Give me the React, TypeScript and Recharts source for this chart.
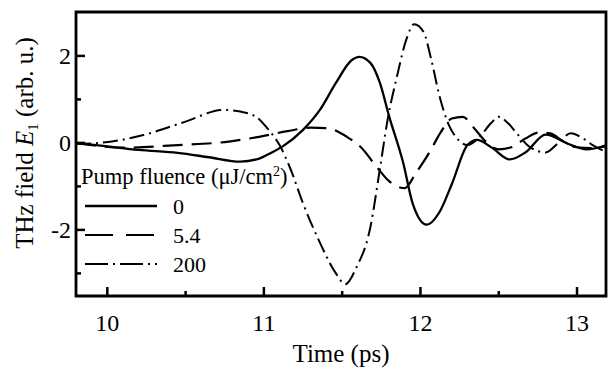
import React from 'react';
import { LineChart, Line, XAxis, YAxis, ReferenceArea, Legend } from 'recharts';

// time (ps) and THz field E1 (arb. u.) for each pump fluence
const fluence0Time = [9.8, 10.0, 10.2, 10.45, 10.65, 10.85, 10.97, 11.05, 11.12, 11.25, 11.36, 11.46, 11.56, 11.61, 11.68, 11.74, 11.8, 11.89, 11.95, 12.04, 12.12, 12.2, 12.3, 12.36, 12.46, 12.57, 12.67, 12.8, 12.95, 13.06, 13.18];
const fluence0Field = [0, -0.08, -0.16, -0.23, -0.33, -0.43, -0.36, -0.22, -0.08, 0.3, 0.77, 1.38, 1.9, 1.98, 1.84, 1.39, 0.61, -0.46, -1.39, -1.88, -1.6, -0.95, -0.05, 0.07, -0.12, -0.38, -0.22, 0.19, -0.03, -0.15, -0.06];

const fluence54Time = [9.8, 10.1, 10.45, 10.75, 10.97, 11.15, 11.3, 11.4, 11.53, 11.62, 11.72, 11.8, 11.9, 11.97, 12.06, 12.13, 12.2, 12.27, 12.34, 12.42, 12.5, 12.58, 12.67, 12.76, 12.83, 12.91, 13.0, 13.1, 13.18];
const fluence54Field = [0, -0.11, -0.05, 0.02, 0.14, 0.27, 0.35, 0.34, 0.14, -0.1, -0.55, -0.88, -1.04, -0.7, -0.2, 0.25, 0.56, 0.6, 0.35, 0.02, -0.15, -0.1, 0.1, 0.24, 0.22, 0.04, -0.1, -0.12, -0.08];

const fluence200Time = [9.8, 9.95, 10.23, 10.5, 10.74, 10.85, 10.95, 11.03, 11.1, 11.17, 11.25, 11.36, 11.46, 11.52, 11.59, 11.68, 11.74, 11.79, 11.85, 11.91, 11.96, 12.02, 12.07, 12.12, 12.18, 12.23, 12.3, 12.38, 12.45, 12.5, 12.56, 12.62, 12.7, 12.8, 12.88, 12.96, 13.03, 13.1, 13.18];
const fluence200Field = [-0.02, 0, 0.18, 0.49, 0.76, 0.72, 0.6, 0.3, -0.05, -0.6, -1.39, -2.31, -3.0, -3.25, -2.87, -1.94, -0.62, 0.53, 1.53, 2.38, 2.73, 2.55, 1.9, 1.1, 0.42, 0.12, -0.05, 0.15, 0.45, 0.6, 0.45, 0.2, -0.1, -0.22, 0, 0.22, 0.12, -0.05, -0.2];

const xTicks = [10, 10.5, 11, 11.5, 12, 12.5, 13];
const yTicks = [-3, -2, -1, 0, 1, 2];
const X_DOMAIN: [number, number] = [9.8, 13.185];
const Y_DOMAIN: [number, number] = [-3.52, 3.01];

const FONT = '"Liberation Serif", "Times New Roman", serif';

const toPoints = (t: number[], e: number[]) => t.map((v, i) => ({ t: v, e: e[i] }));

const series = [
  { key: 'f0', name: '0', data: toPoints(fluence0Time, fluence0Field), dash: undefined as string | undefined, legendDash: undefined as string | undefined, width: 2.3 },
  { key: 'f54', name: '5.4', data: toPoints(fluence54Time, fluence54Field), dash: '20 9', legendDash: '28 13', width: 2.2 },
  { key: 'f200', name: '200', data: toPoints(fluence200Time, fluence200Field), dash: '15 5 2 5', legendDash: '23 5 2 5', width: 2 },
];

const XTick = (props: any) => {
  const { x, y, payload } = props;
  const major = Number.isInteger(payload.value);
  return (
    <g>
      <line x1={x} x2={x} y1={y} y2={y - (major ? 9 : 5)} stroke="#000" strokeWidth={2.5} />
      {major && (
        <text x={x} y={y + 35} textAnchor="middle" fontFamily={FONT} fontSize={24} fill="#000">
          {payload.value}
        </text>
      )}
    </g>
  );
};

const YTick = (props: any) => {
  const { x, y, payload } = props;
  const major = payload.value % 2 === 0;
  return (
    <g>
      <line x1={x} x2={x + (major ? 9 : 5)} y1={y} y2={y} stroke="#000" strokeWidth={2.5} />
      {major && (
        <text x={x - 5} y={y + 8} textAnchor="end" fontFamily={FONT} fontSize={24} fill="#000">
          {payload.value}
        </text>
      )}
    </g>
  );
};

const YTitle = (props: any) => {
  const vb = props.viewBox;
  const cx = vb.x + 33;
  const cy = 143;
  return (
    <text x={cx} y={cy} transform={`rotate(-90, ${cx}, ${cy})`} textAnchor="middle" fontFamily={FONT} fontSize={25} fill="#000">
      THz field <tspan fontStyle="italic">E</tspan>
      <tspan fontSize={15} dy={5}>1</tspan>
      <tspan dy={-5}> (arb. u.)</tspan>
    </text>
  );
};

const XTitle = (props: any) => {
  const vb = props.viewBox;
  return (
    <text x={vb.x + vb.width / 2} y={vb.y + 66} textAnchor="middle" fontFamily={FONT} fontSize={25} fill="#000">
      Time (ps)
    </text>
  );
};

const FluenceLegend = () => (
  <svg width={220} height={120} style={{ display: 'block', overflow: 'visible' }}>
    <text x={5} y={22} fontFamily={FONT} fontSize={22.5} fill="#000">
      Pump fluence (μJ/cm<tspan fontSize={14} dy={-8}>2</tspan><tspan dy={8}>)</tspan>
    </text>
    {series.map((s, i) => {
      const cy = 44 + i * 29;
      return (
        <g key={s.key}>
          <line x1={9} x2={81} y1={cy} y2={cy} stroke="#000" strokeWidth={s.width} strokeDasharray={s.legendDash} />
          <text x={97} y={cy + 8} fontFamily={FONT} fontSize={22} fill="#000">{s.name}</text>
        </g>
      );
    })}
  </svg>
);

export default function App() {
  return (
    <div style={{ position: 'absolute', left: 0, top: 0, width: 608, height: 368, background: '#fff' }}>
      <LineChart width={608} height={368} margin={{ top: 12, right: 2, bottom: 0, left: 0 }}>
        <XAxis
          type="number"
          dataKey="t"
          domain={X_DOMAIN}
          allowDataOverflow
          ticks={xTicks}
          tick={<XTick />}
          tickLine={false}
          axisLine={false}
          tickSize={0}
          tickMargin={0}
          height={72}
          interval={0}
          label={(p: any) => <XTitle viewBox={p.viewBox} />}
        />
        <YAxis
          type="number"
          dataKey="e"
          domain={Y_DOMAIN}
          allowDataOverflow
          ticks={yTicks}
          tick={<YTick />}
          tickLine={false}
          axisLine={false}
          tickSize={0}
          tickMargin={0}
          width={76}
          interval={0}
          label={(p: any) => <YTitle viewBox={p.viewBox} />}
        />
        <ReferenceArea x1={X_DOMAIN[0]} x2={X_DOMAIN[1]} y1={Y_DOMAIN[0]} y2={Y_DOMAIN[1]} fill="none" stroke="#000" strokeWidth={2.8} fillOpacity={0} ifOverflow="visible" />
        {series.map((s) => (
          <Line
            key={s.key}
            data={s.data}
            dataKey="e"
            name={s.name}
            type="monotone"
            stroke="#000"
            strokeWidth={s.width}
            strokeDasharray={s.dash}
            dot={false}
            activeDot={false}
            isAnimationActive={false}
          />
        ))}
        <Legend
          layout="horizontal"
          verticalAlign="middle"
          align="center"
          content={() => <FluenceLegend />}
          wrapperStyle={{ left: 76, top: 162, width: 220, height: 120 }}
        />
      </LineChart>
    </div>
  );
}
